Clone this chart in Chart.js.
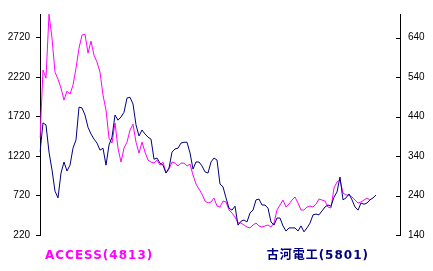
<!DOCTYPE html>
<html>
<head>
<meta charset="utf-8">
<script src="https://cdn.jsdelivr.net/npm/chart.js@4.4.1/dist/chart.umd.min.js"></script>
<style>
  html, body { margin: 0; padding: 0; background: #fff; }
  #wrap { width: 433px; height: 271px; }
</style>
</head>
<body>
<div id="wrap"><canvas id="stockChart" width="433" height="271"></canvas></div>
<script>
const accessLabel = "ACCESS(4813)";
const furukawaLabel = "古河電工(5801)";

// ACCESS, left axis
const accessPrices = [
  1448, 2309, 2207, 3017, 2714, 2283, 2195, 2081, 1929, 2043,
  2005, 2119, 2334, 2587, 2752, 2764, 2524, 2676, 2498, 2410,
  2283, 1992, 1802, 1448, 1385, 1638, 1321, 1144, 1321, 1397,
  1549, 1625, 1397, 1258, 1397, 1271, 1169, 1144, 1131, 1169,
  1106, 1144, 1005, 1055, 1144, 1131, 1093, 1131, 1131, 1093,
  1119, 980, 866, 802, 739, 650, 625, 638, 688, 587,
  574, 650, 638, 536, 498, 448, 372, 372, 347, 321,
  309, 347, 372, 334, 321, 334, 347, 321, 372, 536,
  600, 663, 574, 612, 663, 701, 625, 536, 536, 574,
  587, 574, 612, 676, 663, 650, 574, 562, 815, 891,
  916, 752, 726, 726, 701, 663, 625, 638, 663, 688,
  663
];

// 古河電工, right axis
const furukawaPrices = [
  350, 424, 419, 350, 305, 251, 234, 297, 325, 302,
  317, 360, 381, 464, 462, 444, 413, 396, 383, 373,
  355, 360, 317, 368, 388, 444, 431, 439, 451, 487,
  489, 472, 419, 391, 406, 396, 388, 383, 332, 335,
  322, 317, 297, 310, 350, 358, 360, 373, 375, 375,
  348, 307, 325, 325, 315, 300, 297, 325, 335, 330,
  269, 262, 234, 208, 203, 213, 165, 175, 178, 173,
  196, 203, 229, 231, 216, 216, 208, 173, 165, 183,
  183, 163, 150, 158, 158, 158, 150, 163, 148, 158,
  170, 191, 193, 191, 201, 211, 216, 213, 236, 249,
  287, 229, 234, 244, 229, 211, 203, 221, 218, 221,
  229, 234, 241
];

const leftTicks = [220, 720, 1220, 1720, 2220, 2720];
const rightTicks = [140, 240, 340, 440, 540, 640];
const days = Array.from({ length: 121 }, (_, i) => i + 1);

// right axis tick marks point inward, and the two series names sit under the plot
const extras = {
  id: 'extras',
  afterDraw(chart) {
    const { ctx, chartArea, scales } = chart;
    ctx.save();
    ctx.strokeStyle = '#000';
    ctx.lineWidth = 1;
    rightTicks.forEach(v => {
      const py = Math.round(scales.y2.getPixelForValue(v)) + 0.5;
      ctx.beginPath();
      ctx.moveTo(chartArea.right - 4, py);
      ctx.lineTo(chartArea.right, py);
      ctx.stroke();
    });
    const ds = chart.data.datasets;
    ctx.font = 'bold 12px "DejaVu Sans", "Noto Sans CJK JP"';
    ctx.letterSpacing = '1px';
    ctx.textBaseline = 'middle';
    ctx.textAlign = 'left';
    ctx.fillStyle = ds[0].borderColor;
    ctx.fillText(ds[0].label, chartArea.left + 5, chartArea.bottom + 21);
    ctx.textAlign = 'right';
    ctx.fillStyle = ds[1].borderColor;
    ctx.fillText(ds[1].label, chartArea.right - 31, chartArea.bottom + 21);
    ctx.restore();
  }
};

const tickFont = { family: '"Liberation Sans", Arial', size: 10 };
const plain = v => String(v);

new Chart(document.getElementById('stockChart').getContext('2d'), {
  type: 'line',
  data: {
    labels: days,
    datasets: [
      {
        label: accessLabel,
        data: accessPrices,
        yAxisID: 'y',
        borderColor: '#ff00ff',
        borderWidth: 1,
        pointRadius: 0,
        tension: 0,
        order: 1
      },
      {
        label: furukawaLabel,
        data: furukawaPrices,
        yAxisID: 'y2',
        borderColor: '#000080',
        borderWidth: 1,
        pointRadius: 0,
        tension: 0,
        order: 0
      }
    ]
  },
  options: {
    responsive: false,
    animation: false,
    layout: { padding: { top: 14, bottom: 36, left: 0, right: 0 } },
    plugins: { legend: { display: false }, tooltip: { enabled: false } },
    scales: {
      x: { type: 'category', display: false, offset: false },
      y: {
        position: 'left',
        min: 220,
        max: 3020,
        afterBuildTicks: s => { s.ticks = leftTicks.map(v => ({ value: v })); },
        afterFit: s => { s.width = 40; },
        grid: { drawOnChartArea: false, tickLength: 4, color: '#000' },
        border: { color: '#000', width: 1 },
        ticks: { color: '#000', font: tickFont, padding: 6, callback: plain }
      },
      y2: {
        position: 'right',
        min: 140,
        max: 700,
        afterBuildTicks: s => { s.ticks = rightTicks.map(v => ({ value: v })); },
        afterFit: s => { s.width = 33; },
        grid: { drawOnChartArea: false, drawTicks: false },
        border: { color: '#000', width: 1 },
        ticks: { color: '#000', font: tickFont, padding: 8, callback: plain }
      }
    }
  },
  plugins: [extras]
});
</script>
</body>
</html>
